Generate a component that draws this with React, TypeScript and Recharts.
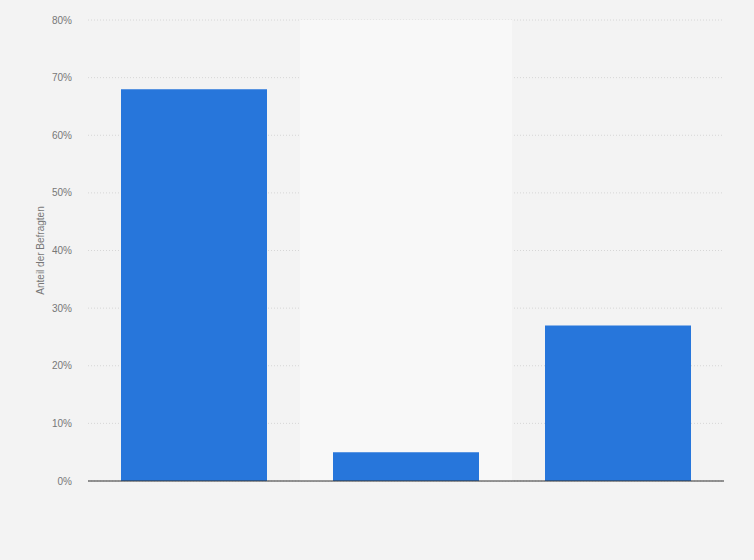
import React from 'react';
import { BarChart, Bar, XAxis, YAxis, CartesianGrid, ReferenceArea, ReferenceLine } from 'recharts';

// categories have no visible labels in the source chart
const categories = ['A', 'B', 'C'];
const shares = [68, 5, 27];
const yTicks = [0, 10, 20, 30, 40, 50, 60, 70, 80];

const data = categories.map((name, i) => ({ name, share: shares[i] }));

const font = '"Liberation Sans", Arial, sans-serif';

export default function App() {
    return (
        <div style={{ position: 'absolute', left: 0, top: 0, width: 754, height: 560, background: '#f3f3f3' }}>
            <BarChart
                width={754}
                height={560}
                data={data}
                margin={{ top: 20, right: 30, left: 0, bottom: 78 }}
                barCategoryGap={33}
            >
                <ReferenceArea x1="B" x2="B" y1={0} y2={80} fill="#f8f8f8" fillOpacity={1} stroke="none" />
                <CartesianGrid vertical={false} stroke="#d6d6d6" strokeDasharray="1 2" />
                <XAxis dataKey="name" height={1} tick={false} tickLine={false} axisLine={false} />
                <YAxis
                    width={88}
                    domain={[0, 80]}
                    ticks={yTicks}
                    tickFormatter={(v) => `${v}%`}
                    axisLine={false}
                    tickLine={false}
                    tickMargin={10}
                    tick={{ fill: '#777', fontSize: 10, fontFamily: font }}
                    label={{
                        value: 'Anteil der Befragten',
                        angle: -90,
                        position: 'center',
                        dx: -4,
                        style: { fill: '#777', fontSize: 10, fontFamily: font, textAnchor: 'middle' },
                    }}
                />
                <Bar dataKey="share" fill="#2776db" isAnimationActive={false} />
                <ReferenceLine y={0} stroke="#333" strokeWidth={1.2} />
            </BarChart>
        </div>
    );
}
